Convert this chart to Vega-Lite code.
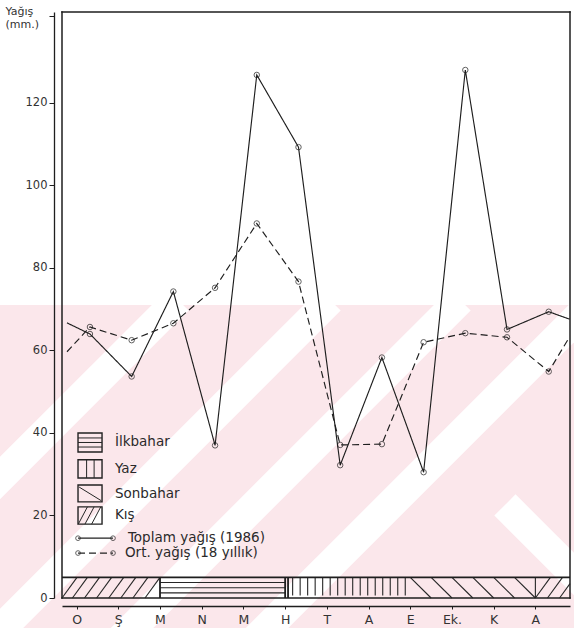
{
  "$schema": "https://vega.github.io/schema/vega-lite/v6.json",
  "width": 508,
  "height": 586,
  "autosize": {"type": "none"},
  "padding": {"left": 62, "top": 12, "right": 4, "bottom": 30},
  "background": "white",
  "config": {
    "font": "DejaVu Sans",
    "view": {"stroke": null},
    "axis": {
      "grid": false,
      "domainColor": "#1e1e1e",
      "domainWidth": 1.3,
      "tickColor": "#1e1e1e",
      "labelColor": "#333333",
      "labelFont": "DejaVu Sans",
      "titleFont": "DejaVu Sans"
    }
  },
  "datasets": {
    "yagis": [
      {"seri": "Toplam yağış (1986)", "ay": 0.45, "yagis": 66.7, "ad": ""},
      {"seri": "Toplam yağış (1986)", "ay": 1, "yagis": 64.0, "ad": "Ocak"},
      {"seri": "Toplam yağış (1986)", "ay": 2, "yagis": 53.7, "ad": "Şubat"},
      {"seri": "Toplam yağış (1986)", "ay": 3, "yagis": 74.3, "ad": "Mart"},
      {"seri": "Toplam yağış (1986)", "ay": 4, "yagis": 37.0, "ad": "Nisan"},
      {"seri": "Toplam yağış (1986)", "ay": 5, "yagis": 126.8, "ad": "Mayıs"},
      {"seri": "Toplam yağış (1986)", "ay": 6, "yagis": 109.3, "ad": "Haziran"},
      {"seri": "Toplam yağış (1986)", "ay": 7, "yagis": 32.2, "ad": "Temmuz"},
      {"seri": "Toplam yağış (1986)", "ay": 8, "yagis": 58.3, "ad": "Ağustos"},
      {"seri": "Toplam yağış (1986)", "ay": 9, "yagis": 30.5, "ad": "Eylül"},
      {"seri": "Toplam yağış (1986)", "ay": 10, "yagis": 128.0, "ad": "Ekim"},
      {"seri": "Toplam yağış (1986)", "ay": 11, "yagis": 65.1, "ad": "Kasım"},
      {"seri": "Toplam yağış (1986)", "ay": 12, "yagis": 69.4, "ad": "Aralık"},
      {"seri": "Toplam yağış (1986)", "ay": 12.5, "yagis": 67.6, "ad": ""},
      {"seri": "Ort. yağış (18 yıllık)", "ay": 0.45, "yagis": 59.7, "ad": ""},
      {"seri": "Ort. yağış (18 yıllık)", "ay": 1, "yagis": 65.7, "ad": "Ocak"},
      {"seri": "Ort. yağış (18 yıllık)", "ay": 2, "yagis": 62.5, "ad": "Şubat"},
      {"seri": "Ort. yağış (18 yıllık)", "ay": 3, "yagis": 66.6, "ad": "Mart"},
      {"seri": "Ort. yağış (18 yıllık)", "ay": 4, "yagis": 75.2, "ad": "Nisan"},
      {"seri": "Ort. yağış (18 yıllık)", "ay": 5, "yagis": 90.8, "ad": "Mayıs"},
      {"seri": "Ort. yağış (18 yıllık)", "ay": 6, "yagis": 76.7, "ad": "Haziran"},
      {"seri": "Ort. yağış (18 yıllık)", "ay": 7, "yagis": 37.1, "ad": "Temmuz"},
      {"seri": "Ort. yağış (18 yıllık)", "ay": 8, "yagis": 37.3, "ad": "Ağustos"},
      {"seri": "Ort. yağış (18 yıllık)", "ay": 9, "yagis": 62.0, "ad": "Eylül"},
      {"seri": "Ort. yağış (18 yıllık)", "ay": 10, "yagis": 64.2, "ad": "Ekim"},
      {"seri": "Ort. yağış (18 yıllık)", "ay": 11, "yagis": 63.2, "ad": "Kasım"},
      {"seri": "Ort. yağış (18 yıllık)", "ay": 12, "yagis": 54.9, "ad": "Aralık"},
      {"seri": "Ort. yağış (18 yıllık)", "ay": 12.5, "yagis": 63.3, "ad": ""}
    ],
    "zemin": [
      {"ay": -1.66, "ay2": 13.23, "yagis": 71.03, "yagis2": -10.2}
    ],
    "seritler": [
      {"ay": 3.112, "ay2": -5.04, "yagis": 72.24, "yagis2": -10.18},
      {"ay": 6.757, "ay2": -1.397, "yagis": 72.24, "yagis2": -10.18},
      {"ay": 9.874, "ay2": 1.721, "yagis": 72.24, "yagis2": -10.18},
      {"ay": 13.11, "ay2": 4.958, "yagis": 72.24, "yagis2": -10.18},
      {"ay": 10.95, "ay2": 13.23, "yagis": 22.55, "yagis2": -0.48}
    ],
    "cerceve": [
      {"ay": 0.33, "ay2": 12.51, "yagis": 142.06, "yagis2": 142.06},
      {"ay": 0.33, "ay2": 0.33, "yagis": 0, "yagis2": 142.06},
      {"ay": 12.51, "ay2": 12.51, "yagis": 0, "yagis2": 142.06},
      {"ay": 0.33, "ay2": 12.51, "yagis": 0, "yagis2": 0}
    ],
    "mevsim_tarama": [
      {"ay": 0.33, "ay2": 0.69, "yagis": 0, "yagis2": 5},
      {"ay": 0.58, "ay2": 0.94, "yagis": 0, "yagis2": 5},
      {"ay": 0.87, "ay2": 1.23, "yagis": 0, "yagis2": 5},
      {"ay": 1.16, "ay2": 1.52, "yagis": 0, "yagis2": 5},
      {"ay": 1.45, "ay2": 1.81, "yagis": 0, "yagis2": 5},
      {"ay": 1.74, "ay2": 2.10, "yagis": 0, "yagis2": 5},
      {"ay": 2.03, "ay2": 2.39, "yagis": 0, "yagis2": 5},
      {"ay": 2.32, "ay2": 2.68, "yagis": 0, "yagis2": 5},
      {"ay": 2.68, "ay2": 5.68, "yagis": 1.25, "yagis2": 1.25},
      {"ay": 2.68, "ay2": 5.68, "yagis": 2.5, "yagis2": 2.5},
      {"ay": 2.68, "ay2": 5.68, "yagis": 3.75, "yagis2": 3.75},
      {"ay": 5.86, "ay2": 5.86, "yagis": 0.6, "yagis2": 5},
      {"ay": 6.04, "ay2": 6.04, "yagis": 0.6, "yagis2": 5},
      {"ay": 6.22, "ay2": 6.22, "yagis": 0.6, "yagis2": 5},
      {"ay": 6.40, "ay2": 6.40, "yagis": 0.6, "yagis2": 5},
      {"ay": 6.58, "ay2": 6.58, "yagis": 0.6, "yagis2": 5},
      {"ay": 6.76, "ay2": 6.76, "yagis": 0.6, "yagis2": 5},
      {"ay": 6.94, "ay2": 6.94, "yagis": 0.6, "yagis2": 5},
      {"ay": 7.12, "ay2": 7.12, "yagis": 0.6, "yagis2": 5},
      {"ay": 7.30, "ay2": 7.30, "yagis": 0.6, "yagis2": 5},
      {"ay": 7.48, "ay2": 7.48, "yagis": 0.6, "yagis2": 5},
      {"ay": 7.66, "ay2": 7.66, "yagis": 0.6, "yagis2": 5},
      {"ay": 7.84, "ay2": 7.84, "yagis": 0.6, "yagis2": 5},
      {"ay": 8.02, "ay2": 8.02, "yagis": 0.6, "yagis2": 5},
      {"ay": 8.20, "ay2": 8.20, "yagis": 0.6, "yagis2": 5},
      {"ay": 8.38, "ay2": 8.38, "yagis": 0.6, "yagis2": 5},
      {"ay": 8.56, "ay2": 8.56, "yagis": 0.6, "yagis2": 5},
      {"ay": 8.68, "ay2": 9.18, "yagis": 5, "yagis2": 0},
      {"ay": 9.18, "ay2": 9.68, "yagis": 5, "yagis2": 0},
      {"ay": 9.68, "ay2": 10.18, "yagis": 5, "yagis2": 0},
      {"ay": 10.18, "ay2": 10.68, "yagis": 5, "yagis2": 0},
      {"ay": 10.68, "ay2": 11.18, "yagis": 5, "yagis2": 0},
      {"ay": 11.18, "ay2": 11.68, "yagis": 5, "yagis2": 0},
      {"ay": 11.68, "ay2": 11.68, "yagis": 0, "yagis2": 5},
      {"ay": 11.68, "ay2": 12.04, "yagis": 0, "yagis2": 5},
      {"ay": 11.97, "ay2": 12.33, "yagis": 0, "yagis2": 5},
      {"ay": 12.26, "ay2": 12.51, "yagis": 0, "yagis2": 3.47}
    ],
    "mevsim_sinir": [
      {"ay": 0.33, "ay2": 12.51, "yagis": 5, "yagis2": 5},
      {"ay": 2.68, "ay2": 2.68, "yagis": 0, "yagis2": 5},
      {"ay": 5.68, "ay2": 5.68, "yagis": 0, "yagis2": 5},
      {"ay": 5.75, "ay2": 5.75, "yagis": 0, "yagis2": 5}
    ],
    "lejant_kutu": [
      {"ay": 0.714, "ay2": 1.29, "yagis": 35.4, "yagis2": 40.0},
      {"ay": 0.714, "ay2": 1.29, "yagis": 29.1, "yagis2": 33.5},
      {"ay": 0.714, "ay2": 1.29, "yagis": 23.3, "yagis2": 27.4},
      {"ay": 0.714, "ay2": 1.29, "yagis": 17.9, "yagis2": 22.1}
    ],
    "lejant_tarama": [
      {"ay": 0.714, "ay2": 1.29, "yagis": 36.6, "yagis2": 36.6},
      {"ay": 0.714, "ay2": 1.29, "yagis": 37.7, "yagis2": 37.7},
      {"ay": 0.714, "ay2": 1.29, "yagis": 38.8, "yagis2": 38.8},
      {"ay": 0.92, "ay2": 0.92, "yagis": 29.1, "yagis2": 33.5},
      {"ay": 1.10, "ay2": 1.10, "yagis": 29.1, "yagis2": 33.5},
      {"ay": 0.74, "ay2": 1.27, "yagis": 26.9, "yagis2": 23.6},
      {"ay": 0.72, "ay2": 0.94, "yagis": 17.9, "yagis2": 22.1},
      {"ay": 0.88, "ay2": 1.10, "yagis": 17.9, "yagis2": 22.1},
      {"ay": 1.04, "ay2": 1.26, "yagis": 17.9, "yagis2": 22.1}
    ],
    "lejant_metin": [
      {"ay": 1.60, "yagis": 37.7, "metin": "İlkbahar"},
      {"ay": 1.60, "yagis": 31.3, "metin": "Yaz"},
      {"ay": 1.60, "yagis": 25.3, "metin": "Sonbahar"},
      {"ay": 1.60, "yagis": 20.0, "metin": "Kış"},
      {"ay": 1.91, "yagis": 14.5, "metin": "Toplam yağış (1986)"},
      {"ay": 1.84, "yagis": 10.9, "metin": "Ort. yağış (18 yıllık)"}
    ],
    "lejant_cizgi": [
      {"seri": "Toplam yağış (1986)", "ay": 0.714, "yagis": 14.5},
      {"seri": "Toplam yağış (1986)", "ay": 1.553, "yagis": 14.5},
      {"seri": "Ort. yağış (18 yıllık)", "ay": 0.714, "yagis": 10.9},
      {"seri": "Ort. yağış (18 yıllık)", "ay": 1.553, "yagis": 10.9}
    ]
  },
  "encoding": {
    "x": {
      "field": "ay", "type": "quantitative",
      "scale": {"domain": [0.33, 12.51], "nice": false, "zero": false},
      "axis": {
        "orient": "bottom", "offset": 8, "title": null, "zindex": 2,
        "values": [0.68, 1.68, 2.68, 3.68, 4.68, 5.68, 6.68, 7.68, 8.68, 9.68, 10.68, 11.68],
        "labelExpr": "['O','Ş','M','N','M','H','T','A','E','Ek.','K','A'][round(datum.value - 0.68)]",
        "labelDx": 21, "tickSize": 3, "labelPadding": 4, "labelFontSize": 12.5,
        "labelFlush": false, "labelOverlap": false
      }
    },
    "y": {
      "field": "yagis", "type": "quantitative",
      "scale": {"domain": [0, 142.06], "nice": false, "zero": false},
      "axis": {
        "orient": "left", "offset": 8, "zindex": 2,
        "values": [0, 20, 40, 60, 80, 100, 120, 141],
        "labelExpr": "datum.value > 130 ? '' : datum.label",
        "tickSize": 5, "labelPadding": 2, "labelFontSize": 11.5,
        "title": ["Yağış", "(mm.)"],
        "titleAngle": 0, "titleAlign": "left", "titleBaseline": "top",
        "titleX": -49, "titleY": -7, "titleFontSize": 11, "titleFontWeight": "normal",
        "titleColor": "#333333", "titleLineHeight": 13
      }
    }
  },
  "layer": [
    {
      "data": {"name": "zemin"},
      "mark": {"type": "rect", "color": "#fbe7eb", "clip": false},
      "encoding": {"x2": {"field": "ay2"}, "y2": {"field": "yagis2"}}
    },
    {
      "data": {"name": "seritler"},
      "mark": {"type": "rule", "color": "white", "strokeWidth": 30, "strokeCap": "butt", "clip": false},
      "encoding": {"x2": {"field": "ay2"}, "y2": {"field": "yagis2"}}
    },
    {
      "data": {"name": "cerceve"},
      "mark": {"type": "rule", "color": "#1e1e1e", "strokeWidth": 1.5, "strokeCap": "square"},
      "encoding": {"x2": {"field": "ay2"}, "y2": {"field": "yagis2"}}
    },
    {
      "data": {"name": "mevsim_tarama"},
      "mark": {"type": "rule", "color": "#262626", "strokeWidth": 1.1},
      "encoding": {"x2": {"field": "ay2"}, "y2": {"field": "yagis2"}}
    },
    {
      "data": {"name": "mevsim_sinir"},
      "mark": {"type": "rule", "color": "#1e1e1e", "strokeWidth": 1.8},
      "encoding": {"x2": {"field": "ay2"}, "y2": {"field": "yagis2"}}
    },
    {
      "data": {"name": "lejant_kutu"},
      "mark": {"type": "rect", "fill": null, "fillOpacity": 0, "stroke": "#222222", "strokeWidth": 1.4},
      "encoding": {"x2": {"field": "ay2"}, "y2": {"field": "yagis2"}}
    },
    {
      "data": {"name": "lejant_tarama"},
      "mark": {"type": "rule", "color": "#262626", "strokeWidth": 1},
      "encoding": {"x2": {"field": "ay2"}, "y2": {"field": "yagis2"}}
    },
    {
      "data": {"name": "lejant_metin"},
      "mark": {"type": "text", "align": "left", "baseline": "middle", "fontSize": 13.5, "color": "#2a2a2a"},
      "encoding": {"text": {"field": "metin"}}
    },
    {
      "data": {"name": "lejant_cizgi"},
      "mark": {"type": "line", "color": "#222222", "strokeWidth": 1.2},
      "encoding": {
        "strokeDash": {"field": "seri", "type": "nominal", "legend": null,
          "scale": {"domain": ["Toplam yağış (1986)", "Ort. yağış (18 yıllık)"], "range": [[1, 0], [7, 4]]}}
      }
    },
    {
      "data": {"name": "lejant_cizgi"},
      "mark": {"type": "point", "shape": "circle", "filled": false, "size": 22, "color": "#222222", "strokeWidth": 1}
    },
    {
      "data": {"name": "yagis"},
      "mark": {"type": "line", "color": "#1e1e1e", "strokeWidth": 1.15},
      "encoding": {
        "strokeDash": {"field": "seri", "type": "nominal", "legend": null}
      }
    },
    {
      "data": {"name": "yagis"},
      "transform": [{"filter": "datum.ad != ''"}],
      "mark": {"type": "point", "shape": "circle", "filled": false, "size": 30, "color": "#1e1e1e", "strokeWidth": 1},
      "encoding": {
        "tooltip": [{"field": "ad"}, {"field": "seri"}, {"field": "yagis"}]
      }
    }
  ]
}
